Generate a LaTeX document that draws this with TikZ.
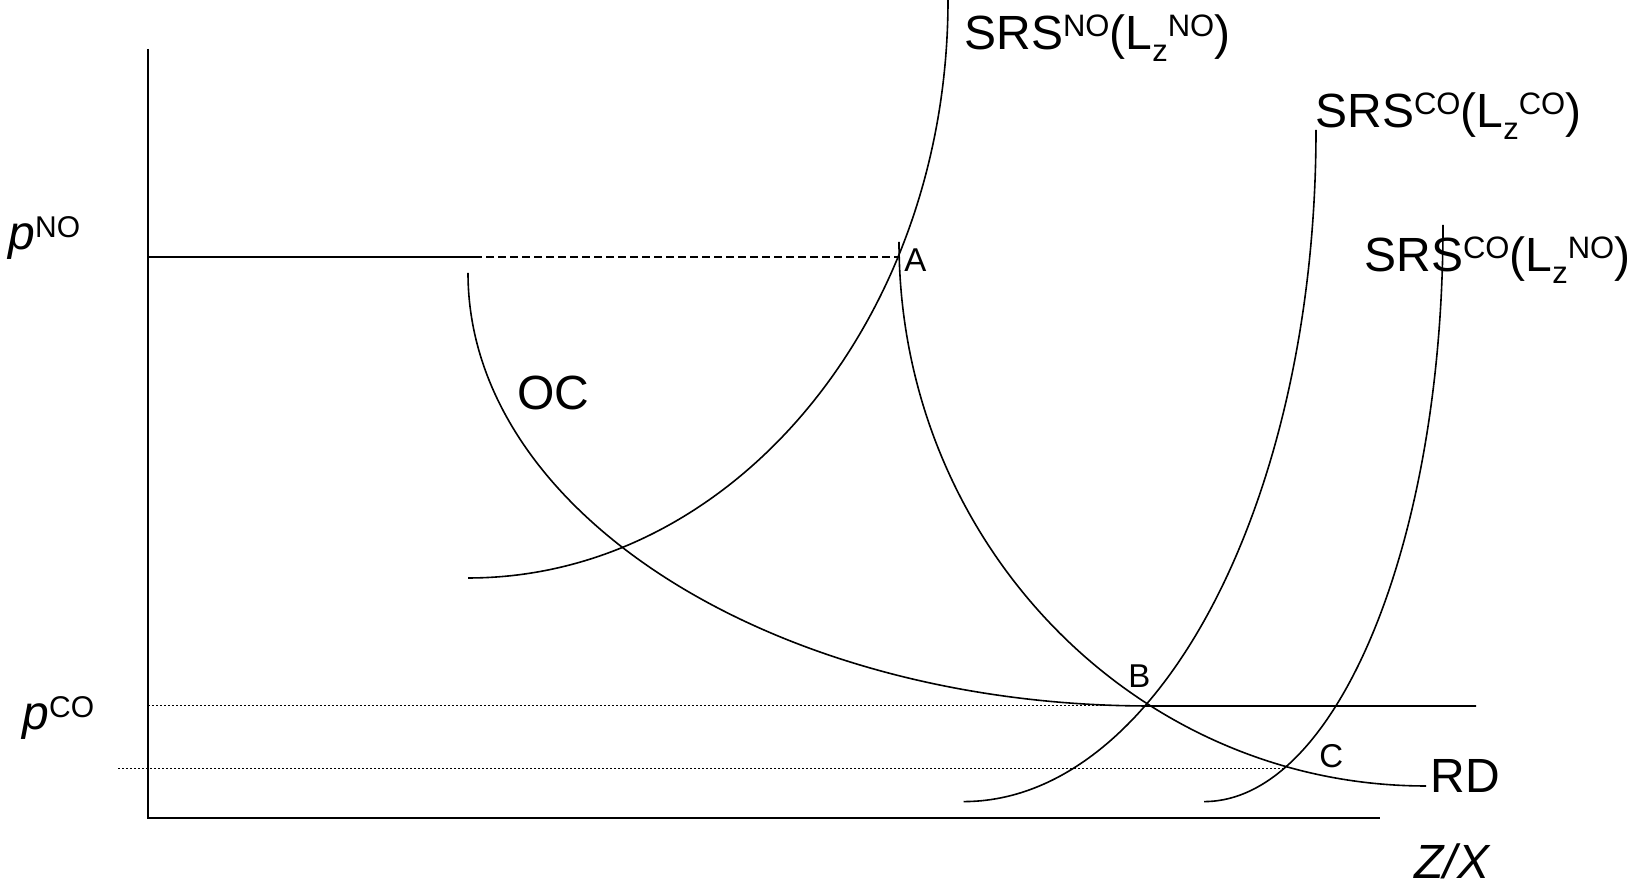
\documentclass[tikz,border=0pt]{standalone}
\usepackage{fontspec}
\setmainfont{Liberation Sans}
\newcommand{\supx}[1]{\raisebox{6.6pt}{\fontsize{15.5pt}{15pt}\selectfont\upshape #1}}
\newcommand{\supy}[1]{\raisebox{6.4pt}{\fontsize{15pt}{15pt}\selectfont\upshape #1}}
\newcommand{\subx}[1]{\raisebox{-5.6pt}{\fontsize{15.5pt}{15pt}\selectfont #1}}
\begin{document}
\begin{tikzpicture}[x=0.5pt,y=0.5pt,
  curve/.style={line width=0.8pt},
  axisline/.style={line width=1.15pt},
  guide/.style={line width=0.5pt, dash pattern=on 1pt off 1pt},
  dashline/.style={line width=0.8pt, dash pattern=on 4pt off 2pt},
  big/.style={font=\fontsize{24pt}{28pt}\selectfont, inner sep=0pt, anchor=base west},
  ptlabel/.style={font=\fontsize{16.5pt}{20pt}\selectfont, inner sep=0pt, anchor=base west}]
\useasboundingbox (0,0) rectangle (1635,886);

% named points
\coordinate (O) at (148,68);
\coordinate (ytop) at (148,837);
\coordinate (xend) at (1380,68);
\coordinate (pnoL) at (148,629);
\coordinate (pnoM) at (474,629);
\coordinate (A) at (899,629);
\coordinate (pcoL) at (148,180);
\coordinate (pcoR) at (1120,180);
\coordinate (lowL) at (118,117);
\coordinate (C) at (1286,117);

% axes
\draw[axisline] (ytop) -- (O) -- (xend);

% price lines
\draw[curve] (pnoL) -- (pnoM);
\draw[dashline] (pnoM) -- (A);
\draw[guide] (pcoL) -- (pcoR);
\draw[guide] (lowL) -- (C);

% SRS^NO(L_z^NO)
\draw[curve] (468,308) arc[start angle=-90,end angle=0,x radius=480,y radius=578];
% OC
\draw[curve] (468,613) arc[start angle=180,end angle=270,x radius=682,y radius=433] -- (1476,180);
% RD
\draw[curve] (899,644) arc[start angle=180,end angle=270,x radius=527,y radius=544];
% SRS^CO(L_z^CO)
\draw[curve] (963.5,84.4) arc[start angle=-90,end angle=0,x radius=352.5,y radius=671.6];
% SRS^CO(L_z^NO)
\draw[curve] (1204,84.4) arc[start angle=-90,end angle=0,x radius=239,y radius=576.6];

% labels
\node[big] (srsno) at (964,836) {SRS\supx{NO}(L\subx{z}\supx{NO})};
\node[big] (srscoco) at (1315,758) {SRS\supx{CO}(L\subx{z}\supx{CO})};
\node[big] (srscono) at (1364,614) {SRS\supx{CO}(L\subx{z}\supx{NO})};
\node[big] (oc) at (517,476) {OC};
\node[big] (rd) at (1430,93) {RD};
\node[ptlabel] (la) at (904,614) {A};
\node[ptlabel] (lb) at (1128,198) {B};
\node[ptlabel] (lc) at (1319,118) {C};
\node[big] (pno) at (8,636) {\itshape p\supy{NO}};
\node[big] (pco) at (22,156) {\itshape p\supy{CO}};
\node[big] (zx) at (1414,7) {\itshape Z/X};
\end{tikzpicture}
\end{document}
